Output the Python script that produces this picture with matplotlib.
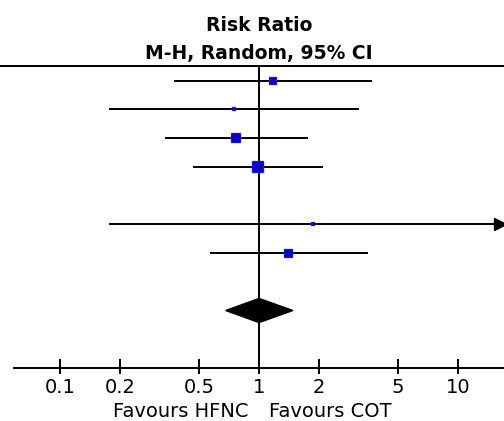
import numpy as np
import matplotlib
matplotlib.use('Agg')
import matplotlib.pyplot as plt

# study rows (top to bottom); rows 4 and 7 are blank gaps
rows = [0, 1, 2, 3, 5, 6]
rr = [1.18, 0.75, 0.77, 0.99, 1.87, 1.40]
lo = [0.378, 0.178, 0.341, 0.471, 0.178, 0.574]
hi = [3.65, 3.14, 1.74, 2.07, 25.0, 3.49]
weight = [8, 5, 10, 12, 4, 9]  # square side, px

pooled_row = 8
pooled = 1.00
pooled_lo = 0.68
pooled_hi = 1.48

ticks = [0.1, 0.2, 0.5, 1, 2, 5, 10]
tick_labels = ['0.1', '0.2', '0.5', '1', '2', '5', '10']

XMIN, XMAX = 0.04995, 17.02
BLUE = '#0a00c8'

fig = plt.figure(figsize=(5.04, 4.21), dpi=100)
ax = fig.add_axes([0, 0, 1, 1])
ax.set_xscale('log')
ax.set_xlim(XMIN, XMAX)
ax.set_ylim(11.843, -2.8)
ax.axis('off')

lw = 1.4
# header
ax.text(1, -1.722, 'Risk Ratio', ha='center', va='baseline',
        fontsize=13.5, fontweight='bold')
ax.text(1, -0.748, 'M-H, Random, 95% CI', ha='center', va='baseline',
        fontsize=13.5, fontweight='bold')
ax.axhline(-0.5, color='black', lw=lw)

# line of no effect
ax.plot([1, 1], [-0.5, 10], color='black', lw=lw)

for r, est, l, h, w in zip(rows, rr, lo, hi, weight):
    ax.plot([l, min(h, XMAX)], [r, r], color='black', lw=lw, zorder=2)
    if h > XMAX:
        ax.plot(XMAX / 10 ** (3.5 / 199), r, marker='>', color='black',
                markersize=8, zorder=3, clip_on=False)
    ax.plot(est, r, marker='s', color=BLUE, markersize=w * 0.72,
            markeredgewidth=0.3, markeredgecolor='#6060ff', zorder=4)

# pooled diamond
dh = 0.42
ax.fill([pooled_lo, pooled, pooled_hi, pooled],
        [pooled_row, pooled_row - dh, pooled_row, pooled_row + dh],
        color='black', zorder=3)

# bottom axis
ax.plot([0.0588, XMAX], [10, 10], color='black', lw=lw, clip_on=False)
for t, lab in zip(ticks, tick_labels):
    ax.plot([t, t], [9.72, 10.17], color='black', lw=lw)
    ax.text(t, 10.87, lab, ha='center', va='baseline', fontsize=14)

ax.text(0.885, 11.70, 'Favours HFNC', ha='right', va='baseline', fontsize=14)
ax.text(1.12, 11.70, 'Favours COT', ha='left', va='baseline', fontsize=14)

fig.savefig('out.png', dpi=100)
